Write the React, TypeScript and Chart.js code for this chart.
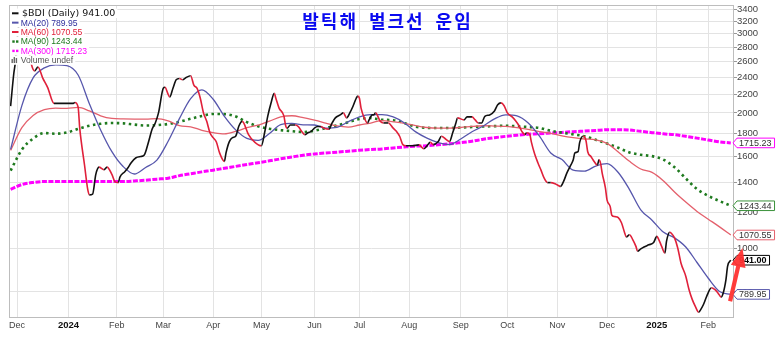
import React, { useEffect, useRef } from "react";
import { Chart, registerables } from "chart.js";

Chart.register(...registerables);

const TITLE = "발틱해 벌크선 운임";
const SYMBOL_LABEL = "$BDI (Daily)";

// ---- Baltic Dry Index (daily close) ----
const bdiDates = [
  "2023-11-27","2023-11-29","2023-11-30","2023-12-01","2023-12-04","2023-12-06","2023-12-08","2023-12-10","2023-12-12","2023-12-14","2023-12-17","2023-12-20","2023-12-24","2023-12-28",
  "2024-01-05","2024-01-06","2024-01-08","2024-01-09","2024-01-12","2024-01-14","2024-01-15","2024-01-17","2024-01-19","2024-01-21","2024-01-24","2024-01-26","2024-01-29","2024-01-31",
  "2024-02-02","2024-02-03","2024-02-06","2024-02-08","2024-02-10","2024-02-13","2024-02-16","2024-02-18","2024-02-21","2024-02-23","2024-02-25","2024-02-27",
  "2024-03-01","2024-03-02","2024-03-04","2024-03-05","2024-03-07","2024-03-09","2024-03-11","2024-03-13","2024-03-15","2024-03-18","2024-03-20","2024-03-22","2024-03-24","2024-03-26","2024-03-28","2024-03-30",
  "2024-04-01","2024-04-03","2024-04-05","2024-04-08","2024-04-09","2024-04-11","2024-04-13","2024-04-15","2024-04-17","2024-04-19","2024-04-20","2024-04-23","2024-04-27",
  "2024-05-01","2024-05-03","2024-05-05","2024-05-07","2024-05-09","2024-05-10","2024-05-12","2024-05-15","2024-05-16","2024-05-17","2024-05-19","2024-05-22","2024-05-24","2024-05-26","2024-05-28","2024-05-30",
  "2024-06-01","2024-06-03","2024-06-05","2024-06-07","2024-06-09","2024-06-12","2024-06-14","2024-06-16","2024-06-19","2024-06-21","2024-06-23","2024-06-25","2024-06-27","2024-06-29","2024-06-30",
  "2024-07-01","2024-07-02","2024-07-04","2024-07-06","2024-07-07","2024-07-09","2024-07-10","2024-07-11","2024-07-14","2024-07-16","2024-07-19","2024-07-22","2024-07-24","2024-07-26","2024-07-28","2024-07-30",
  "2024-08-03","2024-08-07","2024-08-10","2024-08-12","2024-08-14","2024-08-16","2024-08-19","2024-08-21","2024-08-24","2024-08-26","2024-08-28","2024-08-30","2024-08-31",
  "2024-09-04","2024-09-06","2024-09-09","2024-09-11","2024-09-13","2024-09-15","2024-09-17","2024-09-20","2024-09-23","2024-09-25","2024-09-27","2024-09-29",
  "2024-10-01","2024-10-04","2024-10-06","2024-10-08","2024-10-10","2024-10-12","2024-10-13","2024-10-15","2024-10-16","2024-10-18","2024-10-20","2024-10-22","2024-10-24","2024-10-26","2024-10-28","2024-10-31",
  "2024-11-02","2024-11-03","2024-11-05","2024-11-07","2024-11-09","2024-11-11","2024-11-12","2024-11-14","2024-11-15","2024-11-17","2024-11-18","2024-11-19","2024-11-20","2024-11-22","2024-11-24","2024-11-26","2024-11-27","2024-11-28","2024-11-29",
  "2024-12-01","2024-12-02","2024-12-04","2024-12-05","2024-12-07","2024-12-09","2024-12-11","2024-12-13","2024-12-14","2024-12-16","2024-12-18","2024-12-20","2024-12-21","2024-12-23","2024-12-25","2024-12-28","2024-12-31",
  "2025-01-02","2025-01-03","2025-01-05","2025-01-07","2025-01-08","2025-01-10","2025-01-11","2025-01-13","2025-01-15","2025-01-17","2025-01-20","2025-01-22","2025-01-24","2025-01-26","2025-01-28","2025-01-29","2025-01-31",
  "2025-02-02","2025-02-05","2025-02-07","2025-02-09","2025-02-11","2025-02-12","2025-02-14","2025-02-15","2025-02-17",
];
const bdiValues = [
  2070,2450,2600,2900,3346,3150,2800,2560,2480,2530,2390,2280,2100,2100,
  2100,2110,2060,1850,1530,1350,1315,1320,1460,1515,1495,1515,1460,1405,
  1400,1440,1480,1510,1550,1590,1600,1610,1735,1840,1900,2000,
  2270,2280,2200,2170,2270,2370,2385,2370,2395,2420,2305,2267,2156,2000,1916,1807,
  1762,1723,1630,1560,1630,1725,1762,1775,1870,1915,1900,1790,1720,
  1690,1807,1970,2105,2210,2156,2050,1970,1880,1850,1880,1880,1865,1820,1790,1807,
  1820,1850,1865,1865,1850,1840,1900,1950,1980,2000,1950,2000,2070,2156,2180,
  2156,2050,1950,1900,1930,1980,1980,2000,1915,1900,1900,1850,1820,1775,1700,1690,
  1690,1698,1665,1690,1720,1700,1727,1775,1745,1727,1807,1900,1950,
  1930,1960,1960,1930,1900,1900,1965,1980,2020,2085,2105,2075,
  2000,1960,1925,1880,1820,1790,1807,1790,1720,1620,1550,1490,1430,1400,1400,1390,
  1378,1373,1409,1470,1520,1573,1630,1640,1720,1775,1770,1730,1640,1600,1560,1530,1573,1545,1470,
  1362,1282,1238,1185,1176,1170,1140,1082,1060,1072,1046,1010,985,997,1007,1018,1030,
  1063,1050,1010,976,1036,1086,1080,1055,1002,928,867,810,770,742,721,728,750,
  782,817,810,796,779,789,852,912,941,
];

// ---- Moving averages (weekly readings) ----
const maDates = [
  "2023-11-27","2023-12-04","2023-12-11","2023-12-18","2023-12-25","2024-01-01","2024-01-08","2024-01-15","2024-01-22","2024-01-29",
  "2024-02-05","2024-02-12","2024-02-19","2024-02-26","2024-03-04","2024-03-11","2024-03-18","2024-03-25","2024-04-01","2024-04-08",
  "2024-04-15","2024-04-22","2024-04-29","2024-05-06","2024-05-13","2024-05-20","2024-05-27","2024-06-03","2024-06-10","2024-06-17",
  "2024-06-24","2024-07-01","2024-07-08","2024-07-15","2024-07-22","2024-07-29","2024-08-05","2024-08-12","2024-08-19","2024-08-26",
  "2024-09-02","2024-09-09","2024-09-16","2024-09-23","2024-09-30","2024-10-07","2024-10-14","2024-10-21","2024-10-28","2024-11-04",
  "2024-11-11","2024-11-18","2024-11-25","2024-12-02","2024-12-09","2024-12-16","2024-12-23","2024-12-30","2025-01-06","2025-01-13",
  "2025-01-20","2025-01-27","2025-02-03","2025-02-10","2025-02-17",
];
const ma20 = [
  1659,2076,2392,2518,2558,2547,2428,2097,1833,1640,
  1520,1463,1513,1571,1730,1942,2152,2251,2145,1965,
  1834,1756,1738,1800,1883,1896,1881,1880,1850,1857,
  1911,1961,1983,1983,1959,1900,1815,1758,1718,1701,
  1750,1816,1870,1940,1981,1971,1900,1776,1629,1575,
  1492,1485,1524,1543,1474,1351,1218,1155,1087,1055,
  1007,930,858,802,789.95,
];
const ma60 = [
  1651,1854,1974,2033,2049,2047,2057,2021,1971,1944,
  1939,1938,1938,1943,1920,1874,1863,1830,1808,1796,
  1819,1854,1879,1917,1960,1971,1953,1927,1899,1871,
  1860,1880,1899,1923,1911,1896,1874,1856,1851,1851,
  1856,1867,1873,1870,1866,1855,1838,1817,1802,1779,
  1762,1750,1743,1711,1638,1561,1501,1475,1414,1334,
  1267,1208,1161,1116,1070.55,
];
const ma90 = [
  1489,1657,1754,1804,1798,1810,1843,1873,1892,1899,
  1896,1884,1875,1879,1890,1911,1941,1969,1989,1988,
  1964,1908,1867,1844,1831,1822,1814,1826,1851,1876,
  1907,1938,1948,1931,1927,1898,1864,1853,1851,1851,
  1856,1861,1866,1869,1873,1868,1861,1852,1825,1808,
  1792,1775,1743,1710,1673,1634,1614,1603,1575,1515,
  1430,1354,1308,1274,1243.44,
];
const ma300 = [
  1353,1386,1401,1408,1408,1408,1408,1408,1408,1408,
  1408,1412,1417,1425,1432,1451,1465,1479,1492,1507,
  1521,1536,1550,1565,1581,1596,1611,1621,1629,1636,
  1644,1652,1658,1663,1672,1680,1687,1691,1699,1707,
  1718,1730,1748,1762,1774,1784,1793,1798,1804,1810,
  1817,1822,1828,1835,1835,1832,1820,1808,1797,1789,
  1774,1758,1741,1725,1715.23,
];

// ---- Axes ----
const monthTickDates = [
  "2023-12-01","2024-01-02","2024-02-01","2024-03-01","2024-04-01","2024-05-01","2024-06-03","2024-07-01",
  "2024-08-01","2024-09-02","2024-10-01","2024-11-01","2024-12-02","2025-01-02","2025-02-03",
];
const monthTickLabels = ["Dec","2024","Feb","Mar","Apr","May","Jun","Jul","Aug","Sep","Oct","Nov","Dec","2025","Feb"];
const yTicks = [800,1000,1200,1400,1600,1800,2000,2200,2400,2600,2800,3000,3200,3400];
const X_START = "2023-11-26";
const X_END = "2025-02-19";
const Y_MIN = 700;
const Y_MAX = 3475;

const COLORS = {
  up: "#111111",
  down: "#e0203a",
  ma20: "#5656ac",
  ma60: "#e4606c",
  ma90: "#1f7a1f",
  ma300: "#ff00ff",
};

function dayNum(s: string): number {
  const [y, m, d] = s.split("-").map(Number);
  return (Date.UTC(y, m - 1, d) - Date.UTC(2024, 0, 1)) / 86400000;
}
const last = (a: any[]) => a[a.length - 1];
const fmt = (v: number) => v.toFixed(2);
const isYear = (s: string) => /^\d{4}$/.test(s);

export default function App() {
  const ref = useRef<HTMLCanvasElement>(null);

  useEffect(() => {
    document.body.style.margin = "0";
    const canvas = ref.current;
    if (!canvas) return;
    const toPts = (dates: string[], vals: number[]) =>
      dates.map((d, i) => ({ x: dayNum(d), y: vals[i] }));
    const monthTicks = monthTickDates.map(dayNum);

    const overlay = {
      id: "overlay",
      beforeDraw(chart: any) {
        const c = chart.ctx;
        c.save();
        c.fillStyle = "#ffffff";
        c.fillRect(0, 0, chart.width, chart.height);
        c.restore();
      },
      afterDraw(chart: any) {
        const c: CanvasRenderingContext2D = chart.ctx;
        const a = chart.chartArea;
        const ys = chart.scales.y;
        const xs = chart.scales.x;
        c.save();

        // plot frame
        c.strokeStyle = "#bdbdbd";
        c.lineWidth = 1;
        c.strokeRect(a.left + 0.5, a.top + 0.5, a.right - a.left - 1, a.bottom - a.top - 1);

        // title
        c.font = 'bold 18px "Noto Sans CJK KR", sans-serif';
        c.fillStyle = "#0a0af0";
        c.textBaseline = "middle";
        c.textAlign = "left";
        (c as any).letterSpacing = "2px";
        const words = TITLE.split(" ");
        const gap = 11;
        const widths = words.map((w) => c.measureText(w).width);
        const total = widths.reduce((s, w) => s + w, 0) + gap * (words.length - 1);
        let tx = (a.left + a.right) / 2 + 16 - total / 2;
        words.forEach((w, i) => {
          c.fillText(w, tx, a.top + 16.5);
          tx += widths[i] + gap;
        });
        (c as any).letterSpacing = "0px";

        // legend rows
        const rows = [
          { text: `${SYMBOL_LABEL} ${fmt(last(bdiValues))}`, color: "#111", font: '9.5px "DejaVu Sans", sans-serif', icon: "line", ic: "#111", dx: 13 },
          { text: `MA(20) ${fmt(last(ma20))}`, color: "#2e2e9c", font: '8.6px "Liberation Sans", Arial, sans-serif', icon: "line", ic: COLORS.ma20, dx: 11.7 },
          { text: `MA(60) ${fmt(last(ma60))}`, color: "#e0203a", font: '8.6px "Liberation Sans", Arial, sans-serif', icon: "line", ic: COLORS.down, dx: 11.7 },
          { text: `MA(90) ${fmt(last(ma90))}`, color: "#1f7a1f", font: '8.6px "Liberation Sans", Arial, sans-serif', icon: "dots", ic: COLORS.ma90, dx: 11.7 },
          { text: `MA(300) ${fmt(last(ma300))}`, color: "#ff00ff", font: '8.6px "Liberation Sans", Arial, sans-serif', icon: "dots", ic: COLORS.ma300, dx: 11.7 },
          { text: "Volume undef", color: "#555", font: '8.6px "Liberation Sans", Arial, sans-serif', icon: "bars", ic: "#666", dx: 11.7 },
        ];
        rows.forEach((r, i) => {
          const cy = a.top + 8.3 + i * 9.35;
          c.font = r.font;
          const w = c.measureText(r.text).width;
          const x0 = a.left + r.dx;
          c.fillStyle = "#ffffff";
          c.fillRect(a.left + 1, cy - 4.7, x0 + w + 2 - (a.left + 1), 9.4);
          c.fillStyle = r.ic;
          c.strokeStyle = r.ic;
          if (r.icon === "line") {
            c.lineWidth = 2;
            c.beginPath();
            c.moveTo(a.left + 3, cy);
            c.lineTo(a.left + 9.5, cy);
            c.stroke();
          } else if (r.icon === "dots") {
            c.fillRect(a.left + 3.3, cy - 1, 2.4, 2.4);
            c.fillRect(a.left + 7, cy - 1, 2.4, 2.4);
          } else {
            c.fillRect(a.left + 2.5, cy - 1, 1.4, 4);
            c.fillRect(a.left + 4.6, cy - 3, 1.4, 6);
            c.fillRect(a.left + 6.7, cy - 2, 1.4, 5);
          }
          c.fillStyle = r.color;
          c.textBaseline = "middle";
          c.fillText(r.text, x0, cy + 0.5);
        });

        // last-value tags on the right
        const tags = [
          { v: last(ma300), border: COLORS.ma300, bold: false },
          { v: last(ma90), border: "#3a913a", bold: false },
          { v: last(ma60), border: COLORS.ma60, bold: false },
          { v: last(ma20), border: COLORS.ma20, bold: false },
          { v: last(bdiValues), border: "#000000", bold: true },
        ];
        tags.forEach((t) => {
          const cy = ys.getPixelForValue(t.v);
          const tip = a.right - 1;
          c.font = `${t.bold ? "bold " : ""}9px "Liberation Sans", Arial, sans-serif`;
          const label = fmt(t.v);
          const w = c.measureText(label).width;
          const h = 4.8;
          c.beginPath();
          c.moveTo(tip, cy);
          c.lineTo(tip + 4, cy - h);
          c.lineTo(tip + 4 + w + 5, cy - h);
          c.lineTo(tip + 4 + w + 5, cy + h);
          c.lineTo(tip + 4, cy + h);
          c.closePath();
          c.fillStyle = "#ffffff";
          c.fill();
          c.lineWidth = 1;
          c.strokeStyle = t.border;
          c.stroke();
          c.fillStyle = t.bold ? "#000" : "#333";
          c.textBaseline = "middle";
          c.fillText(label, tip + 6, cy + 0.5);
        });

        // red annotation arrow pointing at the latest close
        const lx = xs.getPixelForValue(dayNum(last(bdiDates)));
        const ly = ys.getPixelForValue(last(bdiValues));
        const B = { x: lx - 0.7, y: ly + 41 };
        const T = { x: lx + 11.7, y: ly - 12.3 };
        const L = Math.hypot(T.x - B.x, T.y - B.y);
        const ux = (T.x - B.x) / L, uy = (T.y - B.y) / L;
        const nx = -uy, ny = ux;
        const headLen = 19, headHalf = 7.5, shaftHalf = 2.1;
        const bc = { x: T.x - headLen * ux, y: T.y - headLen * uy };
        c.fillStyle = "rgba(255,50,50,0.95)";
        c.beginPath();
        c.moveTo(B.x + nx * shaftHalf, B.y + ny * shaftHalf);
        c.lineTo(bc.x + nx * shaftHalf, bc.y + ny * shaftHalf);
        c.lineTo(bc.x + nx * headHalf, bc.y + ny * headHalf);
        c.lineTo(T.x, T.y);
        c.lineTo(bc.x - nx * headHalf, bc.y - ny * headHalf);
        c.lineTo(bc.x - nx * shaftHalf, bc.y - ny * shaftHalf);
        c.lineTo(B.x - nx * shaftHalf, B.y - ny * shaftHalf);
        c.closePath();
        c.fill();

        c.restore();
      },
    };

    const chart = new Chart(canvas, {
      type: "line",
      data: {
        datasets: [
          {
            label: SYMBOL_LABEL,
            data: toPts(bdiDates, bdiValues),
            borderColor: COLORS.up,
            borderWidth: 1.6,
            pointRadius: 0,
            cubicInterpolationMode: "monotone",
            segment: {
              borderColor: (s: any) => (s.p1.parsed.y < s.p0.parsed.y ? COLORS.down : COLORS.up),
            },
          },
          {
            label: "MA(20)",
            data: toPts(maDates, ma20),
            borderColor: COLORS.ma20,
            borderWidth: 1.3,
            pointRadius: 0,
            cubicInterpolationMode: "monotone",
          },
          {
            label: "MA(60)",
            data: toPts(maDates, ma60),
            borderColor: COLORS.ma60,
            borderWidth: 1.3,
            pointRadius: 0,
            cubicInterpolationMode: "monotone",
          },
          {
            label: "MA(90)",
            data: toPts(maDates, ma90),
            borderColor: COLORS.ma90,
            borderWidth: 2.6,
            borderDash: [2.5, 3.5],
            pointRadius: 0,
            cubicInterpolationMode: "monotone",
          },
          {
            label: "MA(300)",
            data: toPts(maDates, ma300),
            borderColor: COLORS.ma300,
            borderWidth: 3,
            borderDash: [5, 1.5],
            pointRadius: 0,
            cubicInterpolationMode: "monotone",
          },
        ],
      } as any,
      options: {
        responsive: false,
        animation: false,
        devicePixelRatio: 1,
        events: [],
        layout: { padding: { left: 9, top: 5, right: 0, bottom: 0 } },
        plugins: {
          legend: { display: false },
          tooltip: { enabled: false },
          title: { display: false },
        },
        scales: {
          x: {
            type: "linear",
            position: "bottom",
            min: dayNum(X_START),
            max: dayNum(X_END),
            afterBuildTicks: (s: any) => {
              s.ticks = monthTicks.map((v) => ({ value: v }));
            },
            afterFit: (s: any) => {
              s.height = 22;
              s.paddingLeft = 0;
              s.paddingRight = 0;
            },
            grid: { color: "#e3e3e3", drawTicks: false },
            border: { display: false },
            ticks: {
              autoSkip: false,
              maxRotation: 0,
              padding: 2,
              color: (ctx: any) => (isYear(monthTickLabels[ctx.index] || "") ? "#111" : "#444"),
              font: (ctx: any) => ({
                family: '"Liberation Sans", Arial, sans-serif',
                size: isYear(monthTickLabels[ctx.index] || "") ? 9.5 : 9,
                weight: isYear(monthTickLabels[ctx.index] || "") ? "bold" : "normal",
              }),
              callback: (_v: any, i: number) => monthTickLabels[i],
            },
          },
          y: {
            type: "logarithmic",
            position: "right",
            min: Y_MIN,
            max: Y_MAX,
            afterBuildTicks: (s: any) => {
              s.ticks = yTicks.map((v) => ({ value: v }));
            },
            afterFit: (s: any) => {
              s.width = 48;
              s.paddingTop = 0;
              s.paddingBottom = 0;
            },
            grid: { color: "#e3e3e3", tickLength: 3, tickColor: "#999" },
            border: { display: false },
            ticks: {
              padding: 0,
              color: "#444",
              font: { family: '"Liberation Sans", Arial, sans-serif', size: 9.5 },
              callback: (v: any) => String(v),
            },
          },
        },
      } as any,
      plugins: [overlay],
    });

    return () => chart.destroy();
  }, []);

  return <canvas ref={ref} width={782} height={340} style={{ display: "block" }} />;
}
